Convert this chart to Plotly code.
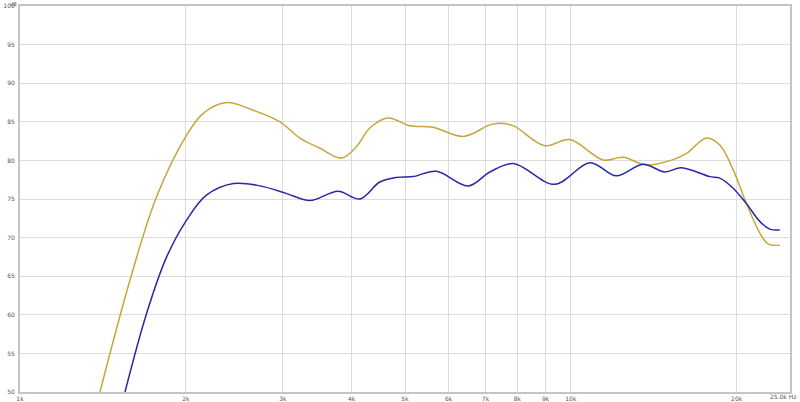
import plotly.graph_objects as go

# Gold curve (frequency in Hz, level in dB)
gold_freq = [1397, 1584, 1770, 2008, 2151, 2372, 2651, 2964, 3223, 3500, 3836, 4083, 4317, 4660,
             5100, 5620, 6380, 7130, 7430, 7860, 8970, 9960, 11450, 12440, 13720, 15340, 16220,
             17630, 18640, 19710, 20840, 22030, 22800, 23950]
gold_db = [50.0, 64.5, 75.3, 83.3, 86.1, 87.5, 86.5, 85.0, 82.9, 81.6, 80.3, 81.8, 84.2, 85.5,
           84.5, 84.3, 83.1, 84.6, 84.8, 84.5, 81.9, 82.7, 80.05, 80.4, 79.4, 80.1, 80.9,
           82.9, 82.0, 78.8, 74.4, 70.6, 69.2, 69.0]

# Blue curve
blue_freq = [1551, 1698, 1846, 2008, 2180, 2440, 2727, 3050, 3360, 3780, 4140, 4500, 4830, 5170,
             5700, 6510, 7130, 7860, 9350, 10830, 12100, 13530, 14810, 15880, 17870, 18640,
             19710, 20840, 22030, 22970, 23950]
blue_db = [50.0, 60.2, 67.5, 72.3, 75.5, 77.0, 76.7, 75.7, 74.8, 76.0, 75.0, 77.2, 77.8, 77.9,
           78.6, 76.7, 78.5, 79.6, 76.9, 79.7, 78.0, 79.5, 78.5, 79.05, 77.9, 77.7,
           76.4, 74.4, 72.1, 71.1, 71.0]

x_tickvals = [1000, 2000, 3000, 4000, 5000, 6000, 7000, 8000, 9000, 10000, 20000]
x_ticktext = ["1k", "2k", "3k", "4k", "5k", "6k", "7k", "8k", "9k", "10k", "20k"]
x_end_label = "25.0k Hz"
y_tickvals = [50, 55, 60, 65, 70, 75, 80, 85, 90, 95, 100]
y_ticktext = ["50", "55", "60", "65", "70", "75", "80", "85", "90", "95", "100"]

fig = go.Figure()
fig.add_trace(go.Scatter(x=gold_freq, y=gold_db, mode="lines",
                         line=dict(color="#C8A43C", width=1.5, shape="spline", smoothing=1.0),
                         showlegend=False, hoverinfo="skip"))
fig.add_trace(go.Scatter(x=blue_freq, y=blue_db, mode="lines",
                         line=dict(color="#2828A8", width=1.5, shape="spline", smoothing=1.0),
                         showlegend=False, hoverinfo="skip"))

tick_font = dict(family="DejaVu Sans", size=6, color="#555555")

fig.update_xaxes(type="log", range=[3, 4.39794], tickvals=x_tickvals, ticktext=x_ticktext,
                 showgrid=True, gridcolor="#DCDCDC", gridwidth=1, zeroline=False,
                 showline=True, linecolor="#C4C4C4", linewidth=2, mirror=True,
                 ticks="", tickfont=tick_font, ticklabelstandoff=0, automargin=False)
fig.update_yaxes(range=[50, 100], tickvals=y_tickvals, ticktext=y_ticktext,
                 showgrid=True, gridcolor="#DCDCDC", gridwidth=1, zeroline=False,
                 showline=True, linecolor="#C4C4C4", linewidth=2, mirror=True,
                 ticks="", tickfont=tick_font, ticklabelstandoff=2, automargin=False)

fig.add_annotation(text="dB", xref="paper", yref="paper", x=0, y=1, xanchor="right",
                   yanchor="top", showarrow=False, font=dict(family="DejaVu Sans", size=5,
                   color="#555555"), xshift=-2, yshift=6, borderpad=0)
fig.add_annotation(text=x_end_label, xref="paper", yref="paper", x=1, y=0, xanchor="right",
                   yanchor="top", showarrow=False, font=tick_font, xshift=7, yshift=0,
                   borderpad=0)

fig.update_layout(width=800, height=402, margin=dict(l=20, r=10, t=6, b=10),
                  paper_bgcolor="white", plot_bgcolor="white", hovermode=False)

fig.write_html("out.html", config={"displayModeBar": False, "staticPlot": True},
               post_script="document.body.style.margin='0';document.body.style.overflow='hidden';")
